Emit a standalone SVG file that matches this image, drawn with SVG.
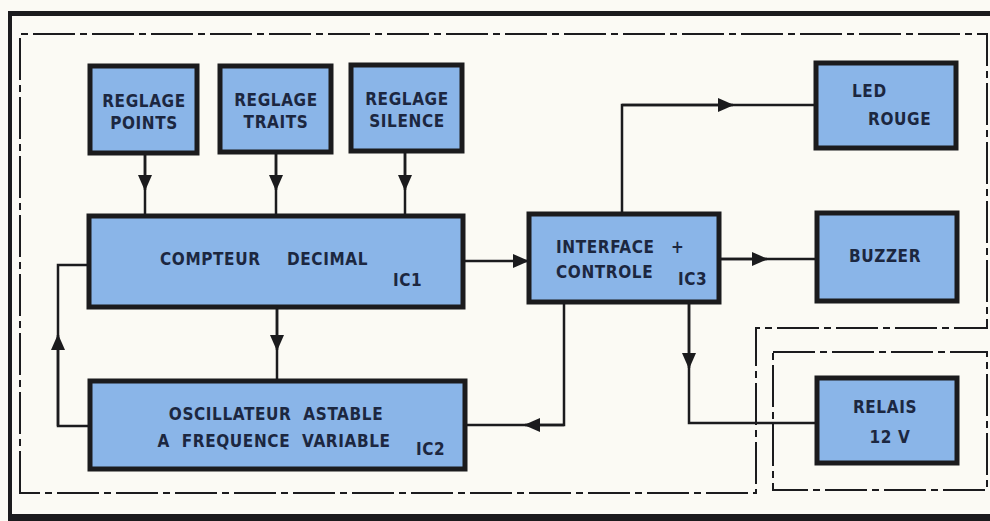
<svg xmlns="http://www.w3.org/2000/svg" width="990" height="521" viewBox="0 0 990 521">
<style>
.box{fill:#8ab5e8;stroke:#1b1b1d;stroke-width:5}
.t{font-family:"DejaVu Sans Condensed","DejaVu Sans",sans-serif;font-weight:bold;font-size:17px;fill:#1c2740;letter-spacing:0.6px}
.c{stroke:#1b1b1d;stroke-width:2.5;fill:none}
.dd{stroke:#1b1b1d;stroke-width:2;fill:none;stroke-dasharray:42 5 7 5}
</style>
<defs>
<marker id="ar" markerWidth="16" markerHeight="14" refX="15" refY="7" orient="auto" markerUnits="userSpaceOnUse">
<path d="M0,0 L16,7 L0,14 Z" fill="#1b1b1d"/>
</marker>
</defs>
<rect width="990" height="521" fill="#fbfaf4"/>
<g id="frame">
<rect x="8" y="11" width="982" height="5" fill="#1b1b1d"/>
<rect x="8" y="11" width="4" height="510" fill="#1b1b1d"/>
<rect x="8" y="514" width="982" height="7" fill="#1b1b1d"/>
<path class="dd" d="M20,493 V34 H987 V328 H756 V493 Z"/>
<path class="dd" d="M773,352 H987 V490 H773 Z"/>
</g>
<g id="connectors">
<path class="c" d="M145,153 V215"/>
<path class="c" d="M145,153 V190" marker-end="url(#ar)"/>
<path class="c" d="M276,152 V215"/>
<path class="c" d="M276,152 V190" marker-end="url(#ar)"/>
<path class="c" d="M405,151 V215"/>
<path class="c" d="M405,151 V190" marker-end="url(#ar)"/>
<path class="c" d="M277,307 V380"/>
<path class="c" d="M277,307 V350" marker-end="url(#ar)"/>
<path class="c" d="M89,426 H58 V265 H88"/>
<path class="c" d="M58,426 V335" marker-end="url(#ar)"/>
<path class="c" d="M463,261 H528" marker-end="url(#ar)"/>
<path class="c" d="M622,213 V105 H816"/>
<path class="c" d="M622,105 H733" marker-end="url(#ar)"/>
<path class="c" d="M719,259 H817"/>
<path class="c" d="M719,259 H767" marker-end="url(#ar)"/>
<path class="c" d="M564,302 V425 H465"/>
<path class="c" d="M564,425 H525" marker-end="url(#ar)"/>
<path class="c" d="M689,302 V423 H817"/>
<path class="c" d="M689,302 V368" marker-end="url(#ar)"/>
</g>
<g id="reglage-points">
<rect class="box" x="90" y="66" width="107" height="87"/>
<text class="t" x="144" y="107" text-anchor="middle">REGLAGE</text>
<text class="t" x="144" y="129" text-anchor="middle">POINTS</text>
</g>
<g id="reglage-traits">
<rect class="box" x="220" y="66" width="111" height="86"/>
<text class="t" x="276" y="106" text-anchor="middle">REGLAGE</text>
<text class="t" x="276" y="128" text-anchor="middle">TRAITS</text>
</g>
<g id="reglage-silence">
<rect class="box" x="351" y="65" width="111" height="86"/>
<text class="t" x="407" y="105" text-anchor="middle">REGLAGE</text>
<text class="t" x="407" y="127" text-anchor="middle">SILENCE</text>
</g>
<g id="led-rouge">
<rect class="box" x="816" y="63" width="140" height="85"/>
<text class="t" x="852" y="97" letter-spacing="2">LED</text>
<text class="t" x="868" y="125">ROUGE</text>
</g>
<g id="compteur">
<rect class="box" x="89" y="216" width="374" height="91"/>
<text class="t" x="160" y="265">COMPTEUR</text>
<text class="t" x="287" y="265">DECIMAL</text>
<text class="t" x="393" y="286" letter-spacing="4">IC1</text>
</g>
<g id="oscillateur">
<rect class="box" x="90" y="381" width="375" height="88"/>
<text class="t" x="276" y="420" text-anchor="middle" word-spacing="6">OSCILLATEUR ASTABLE</text>
<text class="t" x="274" y="447" text-anchor="middle" word-spacing="6">A FREQUENCE VARIABLE</text>
<text class="t" x="416" y="455" letter-spacing="4">IC2</text>
</g>
<g id="interface">
<rect class="box" x="529" y="214" width="190" height="88"/>
<text class="t" x="556" y="253" letter-spacing="1.2">INTERFACE</text>
<text class="t" x="671" y="253">+</text>
<text class="t" x="556" y="278" letter-spacing="1">CONTROLE</text>
<text class="t" x="678" y="285" letter-spacing="2">IC3</text>
</g>
<g id="buzzer">
<rect class="box" x="817" y="213" width="140" height="88"/>
<text class="t" x="885" y="262" text-anchor="middle" letter-spacing="2">BUZZER</text>
</g>
<g id="relais">
<rect class="box" x="817" y="378" width="140" height="85"/>
<text class="t" x="885" y="413" text-anchor="middle" letter-spacing="2">RELAIS</text>
<text class="t" x="890" y="443" text-anchor="middle" letter-spacing="2">12 V</text>
</g>
</svg>
